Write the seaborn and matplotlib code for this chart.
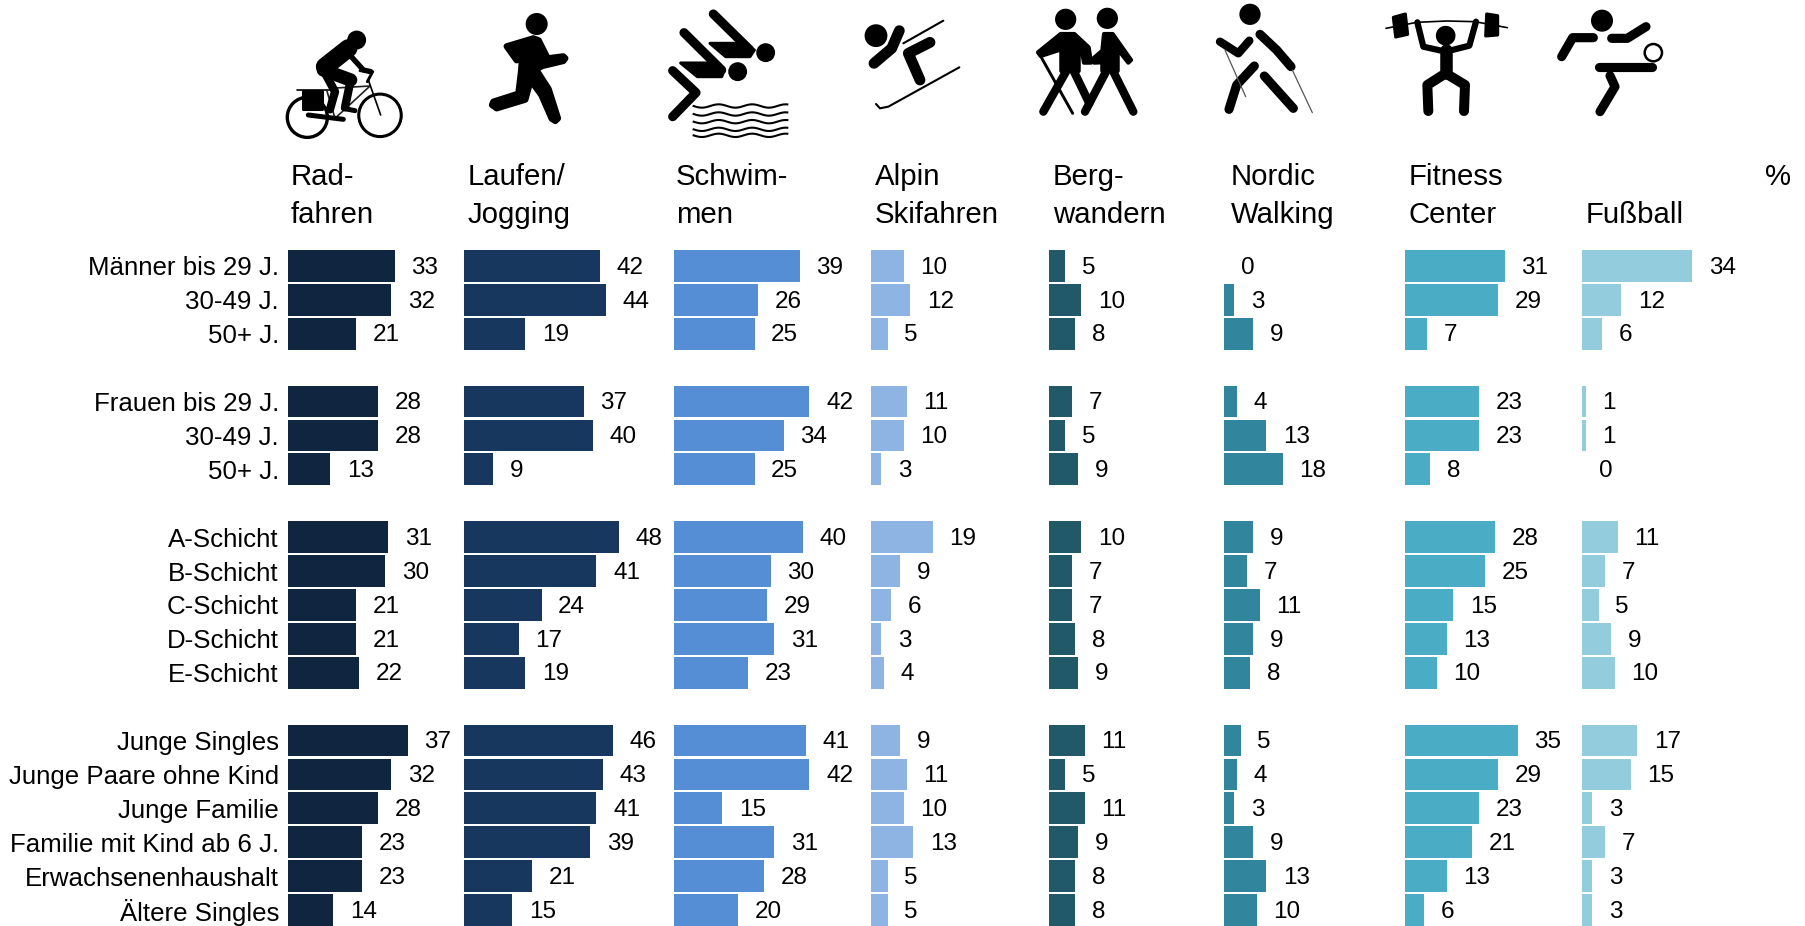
import numpy as np
import pandas as pd
import seaborn as sns
import matplotlib.pyplot as plt
from matplotlib.patches import Circle, Polygon

# Row groups (a blank row sits between groups)
groups = [
    ["Männer bis 29 J.", "30-49 J.", "50+ J."],
    ["Frauen bis 29 J.", "30-49 J.", "50+ J."],
    ["A-Schicht", "B-Schicht", "C-Schicht", "D-Schicht", "E-Schicht"],
    ["Junge Singles", "Junge Paare ohne Kind", "Junge Familie",
     "Familie mit Kind ab 6 J.", "Erwachsenenhaushalt", "Ältere Singles"],
]

radfahren = [33, 32, 21, 28, 28, 13, 31, 30, 21, 21, 22, 37, 32, 28, 23, 23, 14]
laufen = [42, 44, 19, 37, 40, 9, 48, 41, 24, 17, 19, 46, 43, 41, 39, 21, 15]
schwimmen = [39, 26, 25, 42, 34, 25, 40, 30, 29, 31, 23, 41, 42, 15, 31, 28, 20]
alpin = [10, 12, 5, 11, 10, 3, 19, 9, 6, 3, 4, 9, 11, 10, 13, 5, 5]
berg = [5, 10, 8, 7, 5, 9, 10, 7, 7, 8, 9, 11, 5, 11, 9, 8, 8]
nordic = [0, 3, 9, 4, 13, 18, 9, 7, 11, 9, 8, 5, 4, 3, 9, 13, 10]
fitness = [31, 29, 7, 23, 23, 8, 28, 25, 15, 13, 10, 35, 29, 23, 21, 13, 6]
fussball = [34, 12, 6, 1, 1, 0, 11, 7, 5, 9, 10, 17, 15, 3, 7, 3, 3]

sports = ["radfahren", "laufen", "schwimmen", "alpin", "berg", "nordic", "fitness", "fussball"]
series = [radfahren, laufen, schwimmen, alpin, berg, nordic, fitness, fussball]
colors = ["#10253F", "#17375E", "#558ED5", "#8EB4E3", "#215968", "#31859C", "#4BACC6", "#93CDDD"]
headers = [("Rad-", "fahren"), ("Laufen/", "Jogging"), ("Schwim-", "men"), ("Alpin", "Skifahren"),
           ("Berg-", "wandern"), ("Nordic", "Walking"), ("Fitness", "Center"), ("", "Fußball")]

# Layout in pixels of the 1806x926 picture
W, H = 1806, 926
panel_left = [288, 464, 673.8, 871.4, 1049, 1224.4, 1404.6, 1582.4, W]
header_left = [290.5, 468, 676, 875, 1053, 1230.5, 1408.5, 1586]
PX_PER_UNIT = 3.23
ROW_PX = 33.9
TOP_PX = 249

sns.set_theme(style="white")
plt.rcParams["font.family"] = ["Liberation Sans", "DejaVu Sans"]

# Unique row keys, because "30-49 J." and "50+ J." come twice
keys, row_order, tick_labels = [], [], []
for g, names in enumerate(groups):
    keys += [f"{g}_{i}" for i in range(len(names))]
    row_order += [f"{g}_{i}" for i in range(len(names))]
    tick_labels += names
    if g < len(groups) - 1:
        row_order.append(f"blank_{g}")
        tick_labels.append("")

df = pd.DataFrame({"row": keys})
for name, vals in zip(sports, series):
    df[name] = vals

fig = plt.figure(figsize=(W / 100, H / 100), dpi=100)
fig.patch.set_facecolor("white")

n_rows = len(row_order)
for i, name in enumerate(sports):
    left = panel_left[i]
    width = panel_left[i + 1] - left
    ax = fig.add_axes([left / W, 0, width / W, (H - TOP_PX) / H])
    ax.patch.set_alpha(0.0)
    sns.barplot(data=df, x=name, y="row", order=row_order, color=colors[i],
                saturation=1, width=0.94, linewidth=0, ax=ax)
    ax.set_xlim(0, width / PX_PER_UNIT)
    ax.set_ylim((H - TOP_PX) / ROW_PX - 0.5, -0.5)
    ax.set_xlabel("")
    ax.set_ylabel("")
    ax.set_xticks([])
    value_labels = ax.bar_label(ax.containers[0], fmt="%d", padding=12, fontsize=17.5, color="black")
    for t in value_labels:
        t.xyann = (12, -1.2)
    if i == 0:
        ax.set_yticks(range(n_rows))
        ax.set_yticklabels(tick_labels, fontsize=18.6, color="black")
        ax.tick_params(axis="y", length=0, pad=6.5)
    else:
        ax.set_yticks([])
    sns.despine(ax=ax, left=True, bottom=True)

# Overlay in pixel coordinates for headers and pictograms
over = fig.add_axes([0, 0, 1, 1])
over.set_xlim(0, W)
over.set_ylim(H, 0)
over.axis("off")
over.patch.set_alpha(0.0)

for x, (line1, line2) in zip(header_left, headers):
    over.text(x, 177, line1, fontsize=21.2, va="center", ha="left", color="black")
    over.text(x, 215, line2, fontsize=21.2, va="center", ha="left", color="black")
over.text(1791, 177, "%", fontsize=21.2, va="center", ha="right", color="black")


def stroke(origin, pts, w, color="black", cap="round"):
    xs = [origin[0] + p[0] / 3 for p in pts]
    ys = [origin[1] + p[1] / 3 for p in pts]
    over.plot(xs, ys, color=color, lw=1.25 * w / 3 * 0.72, solid_capstyle=cap, solid_joinstyle="round")


def poly(origin, pts, color="black", lw=2.2):
    xy = [(origin[0] + p[0] / 3, origin[1] + p[1] / 3) for p in pts]
    over.add_patch(Polygon(xy, closed=True, fc=color, ec=color, lw=lw, joinstyle="round"))


def disc(origin, c, r, fc="black", ec="none", lw=0):
    over.add_patch(Circle((origin[0] + c[0] / 3, origin[1] + c[1] / 3), 1.18 * r / 3, fc=fc, ec=ec, lw=lw))


# Cyclist
o = (280, 20)
disc(o, (82, 292), 51, fc="none", ec="black", lw=2.4)
disc(o, (300, 286), 54, fc="none", ec="black", lw=2.2)
stroke(o, [(50, 210), (150, 210)], 4)
stroke(o, [(140, 210), (165, 295), (270, 198), (150, 205)], 4, color="#222222")
stroke(o, [(265, 180), (302, 285)], 4)
stroke(o, [(240, 152), (278, 155), (262, 185)], 7)
stroke(o, [(85, 285), (190, 298)], 12)
poly(o, [(70, 214), (126, 214), (126, 268), (70, 268)])
stroke(o, [(135, 140), (205, 85)], 44)
stroke(o, [(205, 100), (250, 150), (272, 155)], 13)
stroke(o, [(130, 150), (212, 180)], 32)
stroke(o, [(212, 180), (195, 262)], 20)
stroke(o, [(130, 150), (165, 215), (150, 268)], 20)
stroke(o, [(190, 265), (225, 272)], 12)
disc(o, (230, 60), 24)

# Runner
o = (480, 5)
disc(o, (170, 57), 28)
poly(o, [(80, 124), (160, 100), (176, 106), (203, 160), (250, 154), (256, 160), (250, 168),
         (187, 183), (168, 193), (206, 252), (234, 340), (226, 348), (215, 341), (184, 270),
         (152, 226), (136, 284), (50, 310), (36, 300), (40, 290), (115, 266), (123, 200),
         (128, 134), (118, 138), (110, 166)], lw=4.5)

# Swimmer
o = (660, 0)
disc(o, (317, 158), 24)
disc(o, (233, 215), 24)
stroke(o, [(160, 42), (270, 150)], 22)
poly(o, [(150, 130), (225, 130), (283, 150), (270, 170), (197, 170)])
stroke(o, [(72, 98), (185, 210)], 22)
poly(o, [(62, 189), (140, 189), (193, 210), (185, 230), (112, 230)])
stroke(o, [(38, 212), (108, 278), (38, 350)], 22)
wave_x = np.linspace(98, 385, 120)
for wy in [318, 342, 365, 388, 406]:
    stroke(o, list(zip(wave_x, wy + 5 * np.sin(wave_x / 16))), 5, cap="butt")

# Skier
o = (860, 10)
disc(o, (48, 77), 29)
stroke(o, [(118, 62), (95, 115), (42, 160)], 26)
stroke(o, [(210, 97), (145, 130), (180, 210)], 26)
stroke(o, [(130, 100), (250, 32)], 5)
stroke(o, [(48, 282), (60, 295), (85, 290), (298, 172)], 5)

# Hikers
o = (1030, 0)
disc(o, (107, 58), 27)
disc(o, (232, 55), 27)
poly(o, [(92, 102), (133, 102), (176, 142), (183, 188), (162, 188), (155, 147), (146, 142),
         (146, 213), (94, 213), (94, 148), (32, 168), (24, 157)], lw=3)
stroke(o, [(108, 215), (40, 335)], 20)
stroke(o, [(132, 215), (178, 310)], 20)
stroke(o, [(30, 165), (128, 340)], 7)
poly(o, [(222, 102), (248, 102), (303, 180), (295, 188), (263, 147), (263, 213), (217, 213),
         (217, 187), (192, 188), (188, 177), (217, 152)], lw=3)
stroke(o, [(228, 215), (165, 335)], 20)
stroke(o, [(250, 215), (310, 335)], 20)

# Nordic walker
o = (1205, 0)
disc(o, (135, 43), 27)
stroke(o, [(45, 125), (100, 160), (133, 122)], 20)
stroke(o, [(165, 103), (215, 150), (258, 200)], 22)
stroke(o, [(148, 198), (95, 255), (72, 328)], 22)
stroke(o, [(178, 228), (265, 325)], 22)
stroke(o, [(60, 150), (122, 290)], 3, color="#555555")
stroke(o, [(262, 210), (322, 338)], 3, color="#555555")

# Weightlifter
o = (1380, 5)
disc(o, (197, 92), 25)
stroke(o, [(18, 70), (110, 52), (200, 48), (285, 50), (382, 68)], 4)
poly(o, [(40, 37), (76, 27), (83, 88), (47, 96)])
poly(o, [(320, 27), (353, 32), (353, 90), (317, 93)])
stroke(o, [(112, 52), (130, 125), (197, 140), (268, 122), (288, 50)], 15)
stroke(o, [(197, 135), (197, 205)], 30)
stroke(o, [(197, 205), (142, 240), (145, 318)], 24)
stroke(o, [(197, 205), (255, 240), (252, 318)], 24)

# Footballer
o = (1550, 5)
disc(o, (156, 47), 28)
stroke(o, [(130, 98), (68, 98), (35, 155)], 22)
stroke(o, [(185, 100), (232, 100), (288, 65)], 22)
stroke(o, [(148, 187), (305, 187)], 22)
stroke(o, [(180, 212), (195, 245), (150, 320)], 22)
disc(o, (310, 143), 22, fc="white", ec="black", lw=1.8)

fig.savefig("out.png", dpi=100)
